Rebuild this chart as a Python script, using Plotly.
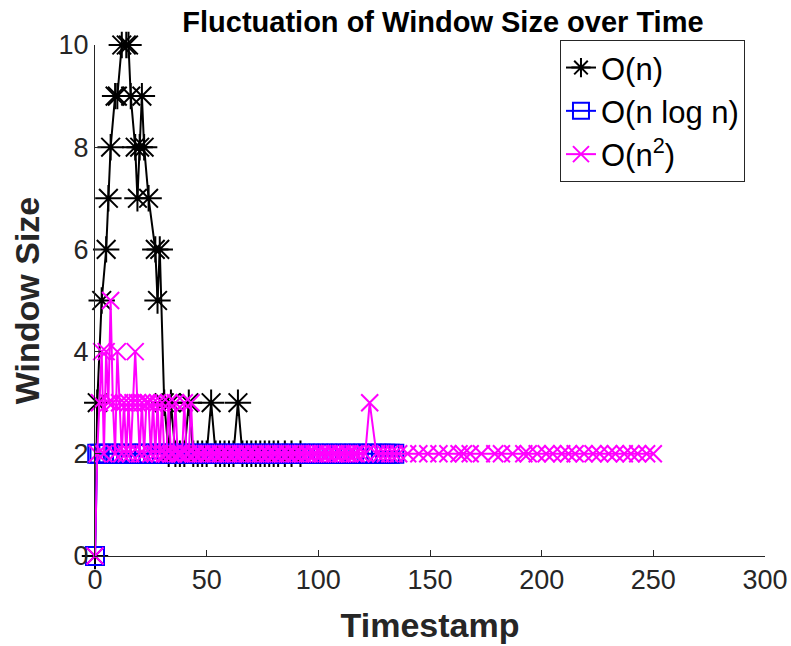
import plotly.graph_objects as go

# ---- data ----
t_n = [0, 1, 3, 5, 6, 7, 9, 10, 12, 14, 15, 16, 18, 19, 20, 21, 22, 24, 27, 28,
       29, 31, 33, 34, 36, 38, 40, 42, 44, 46, 48, 50, 52, 54, 56, 58, 60, 62, 64, 66,
       68, 70, 72, 74, 76, 78, 80, 82, 85, 88, 92]
w_n = [0, 3, 5, 6, 7, 8, 9, 9, 10, 10, 10, 9, 8, 7, 8, 9, 8, 7, 6, 5,
       6, 3, 2, 3, 2, 2, 2, 3, 2, 2, 2, 2, 3, 2, 2, 2, 2, 2, 3, 2,
       2, 2, 2, 2, 2, 2, 2, 2, 2, 2, 2]

t_nlogn = [0, 1, 2, 4, 6, 8, 10, 12, 14, 16, 18, 20, 22, 24, 26, 28, 30, 32, 34, 36,
           38, 40, 42, 44, 46, 48, 50, 52, 54, 56, 58, 60, 62, 64, 66, 68, 70, 72, 74, 76,
           78, 80, 82, 84, 86, 88, 90, 92, 94, 96, 98, 100, 102, 104, 106, 108, 110, 112, 114, 116,
           118, 120, 122, 124, 126, 128, 130, 132, 134]
w_nlogn = [0, 2, 2, 2, 2, 2, 2, 2, 2, 2, 2, 2, 2, 2, 2, 2, 2, 2, 2, 2,
           2, 2, 2, 2, 2, 2, 2, 2, 2, 2, 2, 2, 2, 2, 2, 2, 2, 2, 2, 2,
           2, 2, 2, 2, 2, 2, 2, 2, 2, 2, 2, 2, 2, 2, 2, 2, 2, 2, 2, 2,
           2, 2, 2, 2, 2, 2, 2, 2, 2]

t_n2 = [0, 1, 2, 3, 4, 5, 6, 7, 8, 9, 10, 11, 12, 13, 14, 15, 16, 17, 18, 19,
        20, 21, 22, 23, 24, 25, 26, 27, 28, 29, 30, 31, 32, 33, 34, 35, 36, 37, 38, 39,
        40, 41, 42, 43, 44, 45,
        47, 48, 50, 51, 53, 54, 56, 57, 59, 60, 62, 63, 65, 66, 68, 69, 71, 72, 74, 75,
        77, 78, 80, 81, 83, 84, 86, 87, 89, 90, 92, 93, 95, 96, 98, 99, 101, 102, 104, 105,
        107, 108, 110, 111, 113, 114, 116, 117, 119,
        121, 123, 126,
        128, 130, 132, 134, 136, 140, 145, 149, 154, 158, 163, 165, 168, 173, 179, 182, 187, 192, 194, 198,
        202, 205, 209, 212, 215, 219, 223, 226, 230, 233, 237, 240, 243, 247, 250]
w_n2 = [0, 2, 3, 4, 2, 4, 3, 5, 3, 2, 4, 3, 2, 3, 2, 3, 2, 3, 4, 3,
        2, 3, 2, 3, 3, 2, 3, 2, 3, 2, 3, 2, 2, 3, 2, 2, 3, 2, 2, 2,
        3, 2, 2, 3, 2, 2,
        2, 2, 2, 2, 2, 2, 2, 2, 2, 2, 2, 2, 2, 2, 2, 2, 2, 2, 2, 2,
        2, 2, 2, 2, 2, 2, 2, 2, 2, 2, 2, 2, 2, 2, 2, 2, 2, 2, 2, 2,
        2, 2, 2, 2, 2, 2, 2, 2, 2,
        2, 3, 2,
        2, 2, 2, 2, 2, 2, 2, 2, 2, 2, 2, 2, 2, 2, 2, 2, 2, 2, 2, 2,
        2, 2, 2, 2, 2, 2, 2, 2, 2, 2, 2, 2, 2, 2, 2]

assert len(t_n) == len(w_n)
assert len(t_nlogn) == len(w_nlogn)
assert len(t_n2) == len(w_n2)

x_ticks = [0, 50, 100, 150, 200, 250, 300]
y_ticks = [0, 2, 4, 6, 8, 10]

FONT = "Liberation Sans, Arial, Helvetica, sans-serif"
AX = "#262626"

fig = go.Figure()
fig.add_trace(go.Scatter(
    x=t_n, y=w_n, name="O(n)", mode="lines+markers",
    line=dict(color="black", width=2),
    marker=dict(symbol="asterisk-open", size=22, color="black", line=dict(color="black", width=2)),
    cliponaxis=False))
fig.add_trace(go.Scatter(
    x=t_nlogn, y=w_nlogn, name="O(n log n)", mode="lines+markers",
    line=dict(color="#0000ff", width=2),
    marker=dict(symbol="square-open", size=18, color="#0000ff", line=dict(color="#0000ff", width=2)),
    cliponaxis=False))
fig.add_trace(go.Scatter(
    x=t_n2, y=w_n2, name="O(n<sup>2</sup>)", mode="lines+markers",
    line=dict(color="#ff00ff", width=2),
    marker=dict(symbol="x-thin-open", size=17, color="#ff00ff", line=dict(color="#ff00ff", width=2)),
    cliponaxis=False))

fig.update_layout(
    width=791, height=646,
    margin=dict(l=95, r=26, t=45, b=90, autoexpand=False),
    paper_bgcolor="white", plot_bgcolor="white",
    font=dict(family=FONT, color=AX),
    title=dict(text="<b>Fluctuation of Window Size over Time</b>", x=0.56, xanchor="center",
               y=0.966, yanchor="middle", font=dict(size=29, color="black", family=FONT)),
    xaxis=dict(range=[0, 300], tickvals=x_ticks, ticktext=[str(v) for v in x_ticks],
               showline=True, linecolor=AX, linewidth=1, showgrid=False, zeroline=False,
               automargin=False,
               ticks="inside", ticklen=6, tickcolor=AX, tickfont=dict(size=27, color=AX),
               title=dict(text="<b>Timestamp</b>", font=dict(size=34, color=AX), standoff=18)),
    yaxis=dict(range=[0, 10], tickvals=y_ticks, ticktext=[str(v) for v in y_ticks],
               showline=True, linecolor=AX, linewidth=1, showgrid=False, zeroline=False,
               automargin=False,
               ticks="inside", ticklen=6, tickcolor=AX, tickfont=dict(size=27, color=AX),
               title=dict(text="<b>Window Size</b>", font=dict(size=34, color=AX), standoff=8)),
    legend=dict(x=0.694, y=1.01, xanchor="left", yanchor="top",
                bgcolor="white", bordercolor=AX, borderwidth=1,
                font=dict(size=31, color="black", family=FONT),
                tracegroupgap=0),
    showlegend=True,
)

fig.write_html("out.html")
